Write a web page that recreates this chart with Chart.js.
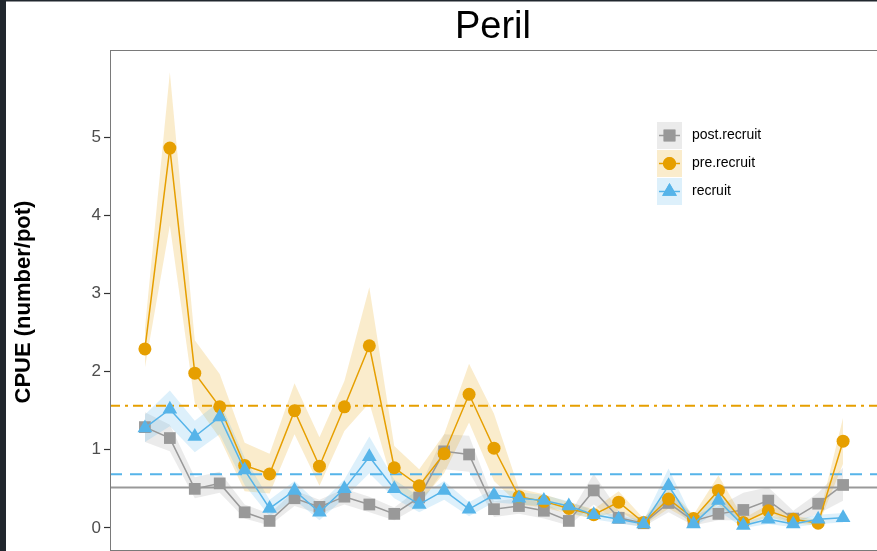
<!DOCTYPE html>
<html>
<head>
<meta charset="utf-8">
<script src="https://cdn.jsdelivr.net/npm/chart.js@4/dist/chart.umd.min.js"></script>
<style>
  html, body { margin: 0; padding: 0; background: #fff; overflow: hidden; }
  #wrap { position: absolute; left: 0; top: 0; width: 880px; height: 551px; }
  #chart { display: block; width: 880px; height: 551px; }
</style>
</head>
<body>
<div id="wrap"><canvas id="chart" width="880" height="551"></canvas></div>
<script>
// survey index along x (no labels shown in the original)
const surveys = Array.from({ length: 29 }, (_, i) => i)

const postRecruit = [1.29, 1.15, 0.50, 0.57, 0.20, 0.09, 0.38, 0.27, 0.40, 0.30, 0.18, 0.39, 0.98, 0.94, 0.24, 0.28, 0.22, 0.09, 0.48, 0.13, 0.06, 0.32, 0.09, 0.18, 0.23, 0.35, 0.12, 0.31, 0.55]
const postLow = [1.10, 0.98, 0.38, 0.45, 0.12, 0.03, 0.28, 0.18, 0.30, 0.20, 0.10, 0.28, 0.75, 0.72, 0.14, 0.18, 0.12, 0.03, 0.30, 0.06, 0.02, 0.20, 0.03, 0.10, 0.10, 0.20, 0.05, 0.18, 0.35]
const postHigh = [1.48, 1.32, 0.65, 0.72, 0.30, 0.18, 0.48, 0.36, 0.50, 0.40, 0.26, 0.50, 1.20, 1.18, 0.34, 0.38, 0.32, 0.16, 0.69, 0.22, 0.12, 0.45, 0.16, 0.28, 0.45, 0.52, 0.22, 0.45, 0.77]

const preRecruit = [2.29, 4.86, 1.98, 1.55, 0.80, 0.69, 1.50, 0.79, 1.55, 2.33, 0.77, 0.54, 0.95, 1.71, 1.02, 0.40, 0.34, 0.25, 0.17, 0.33, 0.07, 0.37, 0.12, 0.48, 0.07, 0.22, 0.11, 0.06, 1.11]
const preLow = [2.05, 3.87, 1.60, 1.15, 0.47, 0.44, 1.20, 0.54, 1.24, 1.60, 0.50, 0.32, 0.70, 1.35, 0.60, 0.30, 0.26, 0.18, 0.12, 0.22, 0.03, 0.25, 0.07, 0.30, 0.03, 0.14, 0.06, 0.03, 0.82]
const preHigh = [2.55, 5.83, 2.40, 1.97, 1.09, 0.95, 1.85, 1.16, 1.88, 3.08, 1.05, 0.75, 1.20, 2.10, 1.46, 0.50, 0.43, 0.33, 0.24, 0.47, 0.12, 0.50, 0.17, 0.67, 0.12, 0.30, 0.16, 0.10, 1.41]

const recruit = [1.28, 1.52, 1.17, 1.42, 0.74, 0.25, 0.48, 0.20, 0.50, 0.91, 0.50, 0.30, 0.48, 0.24, 0.42, 0.38, 0.35, 0.28, 0.17, 0.11, 0.05, 0.54, 0.05, 0.35, 0.03, 0.11, 0.05, 0.11, 0.13]
const recruitLow = [1.10, 1.30, 0.97, 1.20, 0.55, 0.15, 0.36, 0.10, 0.38, 0.70, 0.38, 0.20, 0.36, 0.15, 0.33, 0.30, 0.28, 0.20, 0.11, 0.06, 0.01, 0.35, 0.01, 0.22, 0.00, 0.05, 0.01, 0.05, 0.07]
const recruitHigh = [1.45, 1.76, 1.37, 1.62, 0.90, 0.36, 0.60, 0.30, 0.62, 1.17, 0.62, 0.40, 0.60, 0.33, 0.50, 0.46, 0.42, 0.34, 0.22, 0.16, 0.10, 0.76, 0.10, 0.48, 0.07, 0.17, 0.10, 0.17, 0.19]

// overall means drawn as horizontal reference lines
const postMean = 0.517
const preMean = 1.564
const recruitMean = 0.688

const yTicks = [0, 1, 2, 3, 4, 5]
const xMin = -1.4
const xMax = 29.4

const GRAY = '#999999'
const ORANGE = '#E69F00'
const BLUE = '#56B4E9'

const series = [
  { name: 'post.recruit', color: GRAY, band: 'rgba(153,153,153,0.2)', point: 'rect', radius: 8.3 },
  { name: 'pre.recruit', color: ORANGE, band: 'rgba(230,159,0,0.2)', point: 'circle', radius: 6.5 },
  { name: 'recruit', color: BLUE, band: 'rgba(86,180,233,0.2)', point: 'triangle', radius: 8.5 }
]

const pts = arr => arr.map((v, i) => ({ x: surveys[i], y: v }))
const hline = v => [{ x: xMin, y: v }, { x: xMax, y: v }]

function bandPair (lo, hi, s, ord) {
  return [
    { data: pts(hi), borderWidth: 0, pointRadius: 0, fill: '+1', backgroundColor: s.band, order: ord },
    { data: pts(lo), borderWidth: 0, pointRadius: 0, fill: false, order: ord }
  ]
}

function lineSet (vals, s, ord) {
  return {
    data: pts(vals),
    borderColor: s.color,
    backgroundColor: s.color,
    borderWidth: 1.5,
    pointStyle: s.point,
    pointRadius: s.radius,
    pointBorderWidth: 0,
    pointBackgroundColor: s.color,
    fill: false,
    order: ord
  }
}

const datasets = [
  ...bandPair(postLow, postHigh, series[0], 30),
  ...bandPair(preLow, preHigh, series[1], 29),
  ...bandPair(recruitLow, recruitHigh, series[2], 28),
  { data: hline(postMean), borderColor: GRAY, borderWidth: 2, pointRadius: 0, fill: false, order: 20 },
  { data: hline(preMean), borderColor: ORANGE, borderWidth: 2, borderDash: [10, 5, 3, 5], pointRadius: 0, fill: false, order: 20 },
  { data: hline(recruitMean), borderColor: BLUE, borderWidth: 2, borderDash: [12, 8], pointRadius: 0, fill: false, order: 20 },
  lineSet(postRecruit, series[0], 3),
  lineSet(preRecruit, series[1], 2),
  lineSet(recruit, series[2], 1)
]

// frame, titles and legend drawn on top of the chart
const decorations = {
  id: 'decorations',
  afterDraw (chart) {
    const { ctx, chartArea: a } = chart
    ctx.save()
    ctx.strokeStyle = '#7a7a7a'
    ctx.lineWidth = 1
    ctx.strokeRect(a.left + 0.5, a.top + 0.5, a.right - a.left - 1, a.bottom - a.top - 1)

    ctx.fillStyle = '#000'
    ctx.textAlign = 'center'
    ctx.textBaseline = 'middle'
    ctx.font = '38px "Liberation Sans", Arial, sans-serif'
    ctx.fillText('Peril', 493, 28)

    ctx.save()
    ctx.translate(24, 302)
    ctx.rotate(-Math.PI / 2)
    ctx.font = 'bold 22px "Liberation Sans", Arial, sans-serif'
    ctx.fillText('CPUE (number/pot)', 0, 0)
    ctx.restore()

    // legend
    const keyX = 657
    const keyW = 25
    const rows = [122, 150, 178]
    series.forEach((s, i) => {
      const y0 = rows[i]
      const h = 27
      const cy = y0 + h / 2
      ctx.fillStyle = s.band
      ctx.fillRect(keyX, y0, keyW, h)
      ctx.strokeStyle = s.color
      ctx.lineWidth = 1.5
      ctx.beginPath()
      ctx.moveTo(keyX + 2, cy)
      ctx.lineTo(keyX + keyW - 2, cy)
      ctx.stroke()
      ctx.fillStyle = s.color
      Chart.helpers.drawPoint(ctx, { pointStyle: s.point, radius: s.radius, rotation: 0, borderWidth: 0 }, keyX + keyW / 2, cy)
      ctx.fill()
      ctx.fillStyle = '#000'
      ctx.textAlign = 'left'
      ctx.textBaseline = 'middle'
      ctx.font = '14px "Liberation Sans", Arial, sans-serif'
      ctx.fillText(s.name, 692, cy)
    })

    // dark window edge seen in the screenshot
    ctx.fillStyle = '#21272e'
    ctx.fillRect(0, 0, 6, chart.height)
    ctx.fillRect(0, 0, chart.width, 1.5)
    ctx.restore()
  }
}

new Chart(document.getElementById('chart').getContext('2d'), {
  type: 'line',
  data: { datasets },
  options: {
    responsive: false,
    maintainAspectRatio: false,
    animation: false,
    events: [],
    layout: { autoPadding: false, padding: { top: 50, right: 2, bottom: 0, left: 0 } },
    elements: { line: { tension: 0 } },
    plugins: {
      legend: { display: false },
      tooltip: { enabled: false },
      title: { display: false }
    },
    scales: {
      x: {
        type: 'linear',
        display: false,
        min: xMin,
        max: xMax
      },
      y: {
        type: 'linear',
        min: -0.295,
        max: 6.115,
        afterFit: scale => {
          scale.width = 110
          scale.paddingTop = 0
          scale.paddingBottom = 0
        },
        afterBuildTicks: scale => { scale.ticks = yTicks.map(v => ({ value: v })) },
        border: { display: false },
        grid: {
          drawOnChartArea: false,
          drawTicks: true,
          tickLength: 6,
          tickColor: '#333333',
          tickWidth: 1.2
        },
        ticks: {
          padding: 3,
          color: '#4d4d4d',
          font: { size: 17, family: '"Liberation Sans", Arial, sans-serif' },
          callback: v => String(v)
        }
      }
    }
  },
  plugins: [decorations]
})
</script>
</body>
</html>
